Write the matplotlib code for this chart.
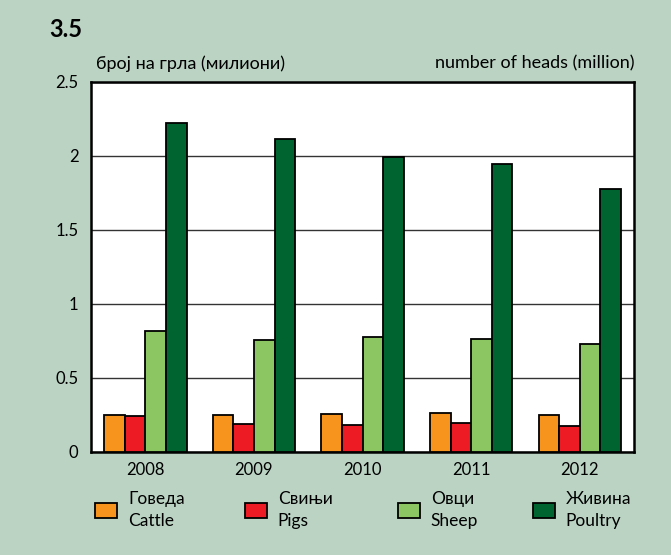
import matplotlib
matplotlib.use("Agg")
import matplotlib.pyplot as plt
import numpy as np
from matplotlib.patches import Rectangle

plt.rcParams['font.family'] = ['Lato', 'Open Sans', 'DejaVu Sans']

years = ['2008', '2009', '2010', '2011', '2012']
cattle = [0.25, 0.25, 0.26, 0.265, 0.25]
pigs = [0.245, 0.19, 0.185, 0.195, 0.175]
sheep = [0.815, 0.755, 0.78, 0.765, 0.73]
poultry = [2.225, 2.115, 1.995, 1.945, 1.775]

series = [cattle, pigs, sheep, poultry]
names = ['Говеда\nCattle', 'Свињи\nPigs', 'Овци\nSheep', 'Живина\nPoultry']
colors = ['#F7941D', '#ED1C24', '#8CC663', '#006430']
bg = '#BAD3C3'

fig = plt.figure(figsize=(6.71, 5.55), dpi=100, facecolor=bg)
ax = fig.add_axes([0.1356, 0.1856, 0.8094, 0.6667])
ax.set_facecolor('white')

x = np.arange(len(years))
w = 0.19
for i, (vals, c) in enumerate(zip(series, colors)):
    ax.bar(x + (i - 1.5) * w, vals, w, color=c, edgecolor='black', linewidth=1.3, zorder=3)

ax.set_xlim(-0.5, len(years) - 0.5)
ax.set_ylim(0, 2.5)
ax.set_yticks([0, 0.5, 1, 1.5, 2, 2.5])
ax.set_yticklabels(['0', '0.5', '1', '1.5', '2', '2.5'])
ax.set_xticks(x)
ax.set_xticklabels(years)
ax.tick_params(length=0, labelsize=12, colors='black')
ax.tick_params(axis='y', pad=9)
ax.tick_params(axis='x', pad=7)
ax.yaxis.grid(True, color='#333333', linewidth=1, zorder=0)
for s in ax.spines.values():
    s.set_linewidth(1.8)
    s.set_color('black')

fig.text(0.074, 0.946, '3.5', fontsize=17, fontweight='bold', va='center')
fig.text(0.143, 0.886, 'број на грла (милиони)', fontsize=13, va='center')
fig.text(0.945, 0.886, 'number of heads (million)', fontsize=13, va='center', ha='right')

# legend
lx = [0.142, 0.365, 0.593, 0.794]
for px, name, c in zip(lx, names, colors):
    fig.patches.append(Rectangle((px, 0.067), 0.033, 0.027, transform=fig.transFigure,
                                 facecolor=c, edgecolor='black', linewidth=1.3))
    fig.text(px + 0.049, 0.081, name, fontsize=12.5, va='center', linespacing=1.5)

fig.savefig('out.png', dpi=100, facecolor=bg)
